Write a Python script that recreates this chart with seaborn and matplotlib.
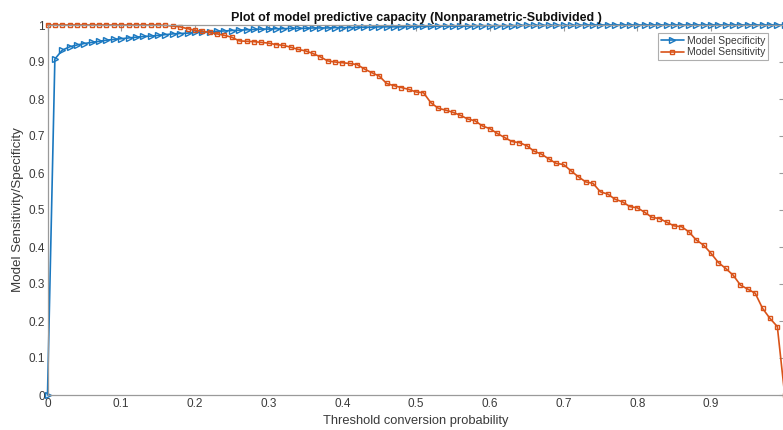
import numpy as np
import pandas as pd
import matplotlib
matplotlib.use("Agg")
import matplotlib.pyplot as plt
import seaborn as sns

# Threshold values (0.00 .. 1.00, step 0.01)
thresholds = [round(i / 100, 2) for i in range(101)]

specificity = [
    0.000, 0.908, 0.932, 0.941, 0.946, 0.950, 0.953, 0.956, 0.959, 0.961,
    0.963, 0.965, 0.967, 0.969, 0.970, 0.972, 0.974, 0.976, 0.977, 0.978,
    0.980, 0.981, 0.982, 0.983, 0.984, 0.985, 0.986, 0.987, 0.988, 0.989,
    0.989, 0.990, 0.990, 0.991, 0.991, 0.991, 0.992, 0.992, 0.992, 0.993,
    0.993, 0.993, 0.994, 0.994, 0.994, 0.995, 0.995, 0.995, 0.995, 0.996,
    0.996, 0.996, 0.996, 0.997, 0.997, 0.997, 0.997, 0.997, 0.998, 0.998,
    0.998, 0.998, 0.998, 0.998, 0.999, 0.999, 0.999, 0.999, 0.999, 0.999,
    0.999, 0.999, 0.999, 1.000, 1.000, 1.000, 1.000, 1.000, 1.000, 1.000,
    1.000, 1.000, 1.000, 1.000, 1.000, 1.000, 1.000, 1.000, 1.000, 1.000,
    1.000, 1.000, 1.000, 1.000, 1.000, 1.000, 1.000, 1.000, 1.000, 1.000,
    1.000,
]

sensitivity = [
    1.000, 1.000, 1.000, 1.000, 1.000, 1.000, 1.000, 1.000, 1.000, 1.000,
    1.000, 1.000, 1.000, 1.000, 1.000, 1.000, 0.999, 0.997, 0.995, 0.990,
    0.986, 0.983, 0.980, 0.976, 0.972, 0.967, 0.957, 0.956, 0.955, 0.953,
    0.951, 0.947, 0.945, 0.940, 0.934, 0.930, 0.923, 0.914, 0.903, 0.900,
    0.898, 0.896, 0.893, 0.881, 0.871, 0.862, 0.842, 0.836, 0.831, 0.826,
    0.819, 0.817, 0.790, 0.775, 0.770, 0.764, 0.756, 0.746, 0.741, 0.727,
    0.720, 0.707, 0.696, 0.685, 0.682, 0.674, 0.659, 0.651, 0.638, 0.626,
    0.623, 0.606, 0.590, 0.576, 0.572, 0.549, 0.543, 0.529, 0.522, 0.509,
    0.506, 0.494, 0.480, 0.477, 0.467, 0.457, 0.455, 0.441, 0.419, 0.405,
    0.383, 0.358, 0.342, 0.324, 0.297, 0.286, 0.275, 0.234, 0.207, 0.185,
    0.000,
]

series_names = ["Model Specificity", "Model Sensitivity"]
tick_values = [round(i / 10, 1) for i in range(11)]
y_tick_labels = ["0", "0.1", "0.2", "0.3", "0.4", "0.5", "0.6", "0.7", "0.8", "0.9", "1"]
# the "1" at the right end of the x axis falls outside the cropped picture
x_tick_labels = ["0", "0.1", "0.2", "0.3", "0.4", "0.5", "0.6", "0.7", "0.8", "0.9", ""]

df = pd.DataFrame({
    "threshold": thresholds * 2,
    "value": specificity + sensitivity,
    "series": [series_names[0]] * len(thresholds) + [series_names[1]] * len(thresholds),
})

sns.set_theme(style="white")
plt.rcParams["font.family"] = ["Liberation Sans", "DejaVu Sans"]

blue = "#1a78c0"
orange = "#D95319"
axis_gray = "#9a9a9a"
text_gray = "#3a3a3a"

fig = plt.figure(figsize=(7.83, 4.30), dpi=100)
ax = fig.add_axes([47.5 / 783, 1 - 395 / 430, (784.7 - 47.5) / 783, 370 / 430])

sns.lineplot(data=df[df["series"] == series_names[0]], x="threshold", y="value",
             ax=ax, color=blue, marker=">", markersize=4.0,
             markerfacecolor="none", markeredgecolor=blue, markeredgewidth=1.0,
             linewidth=1.2, label=series_names[0], estimator=None, sort=False,
             clip_on=False)
sns.lineplot(data=df[df["series"] == series_names[1]], x="threshold", y="value",
             ax=ax, color=orange, marker="s", markersize=3.2,
             markerfacecolor="none", markeredgecolor=orange, markeredgewidth=1.0,
             linewidth=1.2, label=series_names[1], estimator=None, sort=False,
             clip_on=False)

ax.set_xlim(0, 1)
ax.set_ylim(0, 1)
ax.set_xticks(tick_values)
ax.set_xticklabels(x_tick_labels)
ax.set_yticks(tick_values)
ax.set_yticklabels(y_tick_labels)
ax.tick_params(direction="in", top=True, right=True, length=4, width=0.8,
               color=axis_gray, labelcolor=text_gray, labelsize=8.5, pad=2)
for sp in ax.spines.values():
    sp.set_visible(True)
    sp.set_color(axis_gray)
    sp.set_linewidth(0.9)

ax.set_xlabel("Threshold conversion probability", fontsize=9.3, color=text_gray, labelpad=3.5)
ax.set_ylabel("Model Sensitivity/Specificity", fontsize=9.6, color=text_gray, labelpad=3)
ax.set_title("Plot of model predictive capacity (Nonparametric-Subdivided )",
             fontsize=9, fontweight="bold", color="#111111", pad=3)

leg = ax.legend(loc="upper right", bbox_to_anchor=((768 - 47.5) / 737.2, (395 - 33) / 370),
                fontsize=7.5, frameon=True, fancybox=False, borderpad=0.25,
                handlelength=2.2, handletextpad=0.3, labelspacing=0.15,
                borderaxespad=0)
leg.get_frame().set_edgecolor("#9a9a9a")
leg.get_frame().set_linewidth(0.8)
for t in leg.get_texts():
    t.set_color(text_gray)

fig.savefig("out.png", dpi=100)
